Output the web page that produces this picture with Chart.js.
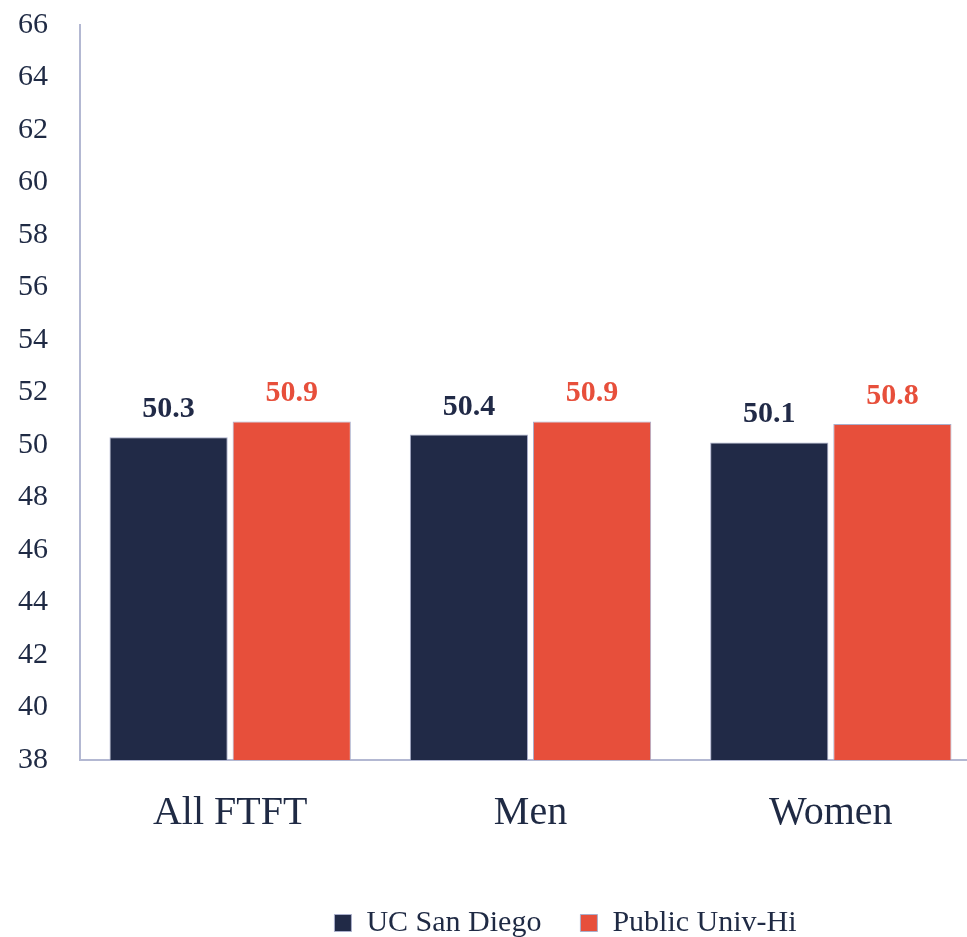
<!DOCTYPE html>
<html>
<head>
<meta charset="utf-8">
<script src="https://cdn.jsdelivr.net/npm/chart.js@4/dist/chart.umd.min.js"></script>
<style>
  html, body { margin: 0; padding: 0; background: #fff; overflow: hidden; }
  #wrap { width: 981px; height: 962px; position: relative; margin-top: -25px; }
</style>
</head>
<body>
<div id="wrap"><canvas id="chart"></canvas></div>
<script>
  const CATEGORIES = ["All FTFT", "Men", "Women"];
  const UCSD = [50.3, 50.4, 50.1];
  const PUBLIC_HI = [50.9, 50.9, 50.8];
  const SERIES_NAMES = ["UC San Diego", "Public Univ-Hi"];
  const Y_MIN = 38, Y_MAX = 66, Y_STEP = 2;

  const NAVY = "#212a47";
  const RED = "#e74f3b";
  const TEXT = "#1f2a44";
  const FONT = "'Liberation Serif', 'DejaVu Serif', serif";

  // values printed above each bar
  const barLabels = {
    id: "barLabels",
    afterDatasetsDraw(chart) {
      const ctx = chart.ctx;
      ctx.save();
      ctx.font = "bold 30px " + FONT;
      ctx.textAlign = "center";
      ctx.textBaseline = "alphabetic";
      chart.data.datasets.forEach((ds, i) => {
        const meta = chart.getDatasetMeta(i);
        ctx.fillStyle = i === 0 ? NAVY : RED;
        meta.data.forEach((bar, j) => {
          ctx.fillText(ds.data[j].toFixed(1), bar.x, bar.y - 20);
        });
      });
      ctx.restore();
    },
  };

  // legend sits a bit right of canvas centre in the original
  const legendShift = {
    id: "legendShift",
    afterLayout(chart) {
      chart.legend.left += 75;
      chart.legend.right += 75;
    },
  };

  new Chart(document.getElementById("chart"), {
    type: "bar",
    data: {
      labels: CATEGORIES,
      datasets: [
        { label: SERIES_NAMES[0], data: UCSD, backgroundColor: NAVY, borderColor: "#a9aecb", borderWidth: 1 },
        { label: SERIES_NAMES[1], data: PUBLIC_HI, backgroundColor: RED, borderColor: "#a9aecb", borderWidth: 1 },
      ],
    },
    options: {
      responsive: true, maintainAspectRatio: false, animation: false,
      layout: { padding: { top: 0, left: 0, right: 0, bottom: -11 } },
      categoryPercentage: 0.82,
      barPercentage: 0.96,
      scales: {
        x: {
          grid: { display: false, drawTicks: false },
          border: { color: "#b3b8d2", width: 2 },
          ticks: { color: TEXT, font: { family: FONT, size: 40 }, padding: 29 },
          afterFit: (s) => { s.height = 109; },
        },
        y: {
          min: Y_MIN, max: Y_MAX,
          grid: { display: false, drawTicks: false },
          border: { color: "#b3b8d2", width: 2 },
          ticks: { stepSize: Y_STEP, color: TEXT, font: { family: FONT, size: 30 }, padding: 32 },
          afterFit: (s) => { s.width = 80; },
        },
      },
      plugins: {
        legend: {
          position: "bottom",
          labels: {
            color: TEXT, font: { family: FONT, size: 30 },
            boxWidth: 17, boxHeight: 17, padding: 39,
          },
        },
        tooltip: { enabled: false },
      },
    },
    plugins: [barLabels, legendShift],
  });
</script>
</body>
</html>
